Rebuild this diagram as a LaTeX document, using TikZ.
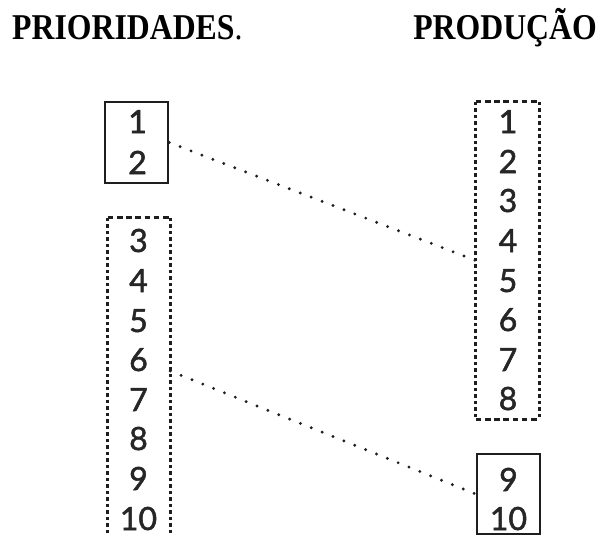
\documentclass[tikz,border=0pt]{standalone}
\usepackage{fontspec}
\newfontfamily\titlefont{Liberation Serif}
\newfontfamily\digitfont[FakeBold=1.6]{Lato}
\definecolor{ink}{HTML}{1E1E1E}
\definecolor{digit}{HTML}{262626}
\begin{document}
\begin{tikzpicture}[x=1pt,y=-1pt,
  title/.style={inner sep=0pt, font=\titlefont\fontsize{36.3}{40}\selectfont\bfseries, text=black},
  num/.style={inner sep=0pt, anchor=base, font=\digitfont\fontsize{32}{36}\selectfont, text=digit},
  solidbox/.style={draw=ink, line width=2.4pt, inner sep=0pt},
  areabox/.style={inner sep=0pt},
  dotside/.style={draw=ink, line width=3pt, dash pattern=on 3.4pt off 3.1pt},
  dashside/.style={draw=ink, line width=2.8pt, dash pattern=on 5.5pt off 3.7pt},
  conn/.style={draw=ink, line width=3.2pt, line cap=round, dash pattern=on 0pt off 11.7pt}]
\clip (0,0) rectangle (606,536);
\fill[white] (0,0) rectangle (606,536);
% titles
\node[title, anchor=base west] (tprio) at (12,39) {\scalebox{0.875}[1]{PRIORIDADES\textmd{.}}};
\node[title, anchor=base east] (tprod) at (597,39) {\scalebox{0.875}[1]{PRODUÇÃO}};
% boxes
\node[solidbox, minimum width=63pt, minimum height=81pt] (lt) at (136.5,142.5) {};
\node[areabox, minimum width=62pt, minimum height=306pt] (lb) at (139,371) {};
\node[areabox, minimum width=63pt, minimum height=317pt] (rt) at (507.5,260.5) {};
\node[solidbox, minimum width=63pt, minimum height=80pt] (rb) at (508.5,494) {};
\coordinate (lbend) at (0,545);
% left dotted box (open at the bottom)
\draw[dotside] (lb.north west) -- (lb.north west |- lbend);
\draw[dotside] (lb.north east) -- (lb.north east |- lbend);
\draw[dashside] (lb.north west) -- (lb.north east);
% right dotted box
\draw[dotside] (rt.north west) -- (rt.south west);
\draw[dotside] (rt.north east) -- (rt.south east);
\draw[dashside] (rt.north west) -- (rt.north east);
\draw[dashside] (rt.south west) -- (rt.south east);
% left digits
\node[num] (l1) at (137.5,133) {1};
\node[num] (l2) at (137.5,174) {2};
\node[num] (l3) at (138.5,252) {3};
\node[num] (l4) at (138.5,292) {4};
\node[num] (l5) at (138.5,332) {5};
\node[num] (l6) at (138.5,371) {6};
\node[num] (l7) at (138.5,411) {7};
\node[num] (l8) at (138.5,450) {8};
\node[num] (l9) at (138.5,490) {9};
\node[num] (l10) at (138.5,530) {10};
% right digits
\node[num] (r1) at (508,133) {1};
\node[num] (r2) at (508,173) {2};
\node[num] (r3) at (508,212) {3};
\node[num] (r4) at (508,252) {4};
\node[num] (r5) at (508,292) {5};
\node[num] (r6) at (508,331) {6};
\node[num] (r7) at (508,371) {7};
\node[num] (r8) at (508,410) {8};
\node[num] (r9) at (508.5,491) {9};
\node[num] (r10) at (508.5,530) {10};
% connectors
\draw[conn] (lt.east) -- (rt.west);
\draw[conn] (lb.east) -- (rb.west);
\end{tikzpicture}
\end{document}
